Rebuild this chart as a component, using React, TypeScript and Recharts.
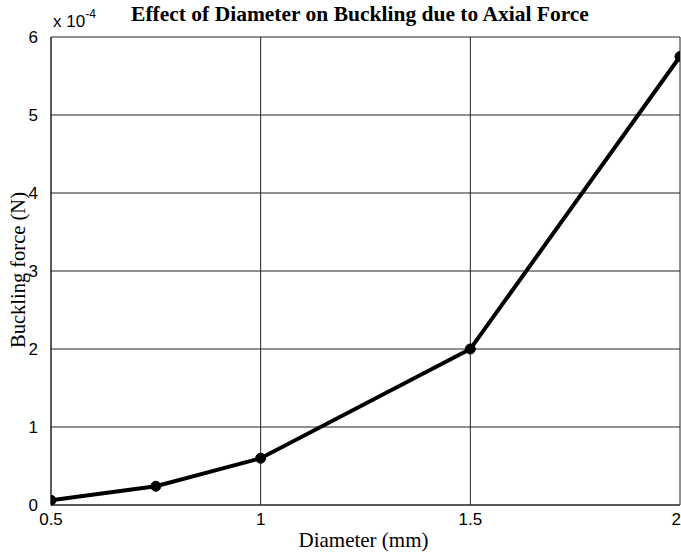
import React from 'react';
import { LineChart, Line, XAxis, YAxis, CartesianGrid } from 'recharts';

// diameter in mm, buckling force in units of 1e-4 N
const diameters = [0.5, 0.75, 1, 1.5, 2];
const bucklingForce = [0.06, 0.24, 0.6, 2.0, 5.75];
const xTicks = [0.5, 1, 1.5, 2];
const yTicks = [0, 1, 2, 3, 4, 5, 6];

const data = diameters.map((d, i) => ({ diameter: d, force: bucklingForce[i] }));

const serif = '"Liberation Serif", "Times New Roman", serif';
const sans = '"Liberation Sans", Arial, sans-serif';

// last x tick sits on the right edge, so pull it inside
const XTick = (props: any) => {
  const { x, y, payload } = props;
  const last = payload.value === xTicks[xTicks.length - 1];
  return (
    <text
      x={last ? x + 1 : x}
      y={y}
      dy={12}
      textAnchor={last ? 'end' : 'middle'}
      fill="#000"
      fontSize={17}
      fontFamily={sans}
    >
      {String(payload.value)}
    </text>
  );
};

export default function App() {
  return (
    <div style={{ position: 'absolute', left: 0, top: 0, width: 681, height: 554, background: '#fff' }}>
      <LineChart
        width={681}
        height={554}
        data={data}
        margin={{ top: 37, right: 1, bottom: 0, left: 0 }}
      >
        <CartesianGrid stroke="#222" strokeWidth={1} />
        <XAxis
          dataKey="diameter"
          type="number"
          domain={[0.5, 2]}
          ticks={xTicks}
          height={49}
          tickLine={false}
          axisLine={{ stroke: '#222' }}
          tick={<XTick />}
          interval={0}
          allowDataOverflow
        />
        <YAxis
          type="number"
          domain={[0, 6]}
          ticks={yTicks}
          width={51}
          tickLine={false}
          axisLine={{ stroke: '#222' }}
          tick={{ fill: '#000', fontSize: 17, fontFamily: sans }}
          tickMargin={7}
          interval={0}
        />
        <Line
          dataKey="force"
          stroke="#000"
          strokeWidth={4}
          dot={{ r: 5, fill: '#000', stroke: '#000', strokeWidth: 1 }}
          isAnimationActive={false}
        />
      </LineChart>
      <div
        style={{
          position: 'absolute', left: 0, width: 720, top: 2, textAlign: 'center',
          fontFamily: serif, fontWeight: 'bold', fontSize: 21.5, color: '#000', whiteSpace: 'nowrap',
        }}
      >
        Effect of Diameter on Buckling due to Axial Force
      </div>
      <div style={{ position: 'absolute', left: 53, top: 9, fontFamily: sans, fontSize: 17, color: '#000', whiteSpace: 'nowrap' }}>
        x 10<sup style={{ fontSize: 12, position: 'relative', top: -2 }}>-4</sup>
      </div>
      <div
        style={{
          position: 'absolute', left: 0, width: 727, top: 528, textAlign: 'center',
          fontFamily: serif, fontSize: 21, color: '#000', whiteSpace: 'nowrap',
        }}
      >
        Diameter (mm)
      </div>
      <div
        style={{
          position: 'absolute', left: 18, top: 270, transform: 'translate(-50%, -50%) rotate(-90deg)',
          fontFamily: serif, fontSize: 20.5, color: '#000', whiteSpace: 'nowrap',
        }}
      >
        Buckling force (N)
      </div>
    </div>
  );
}
